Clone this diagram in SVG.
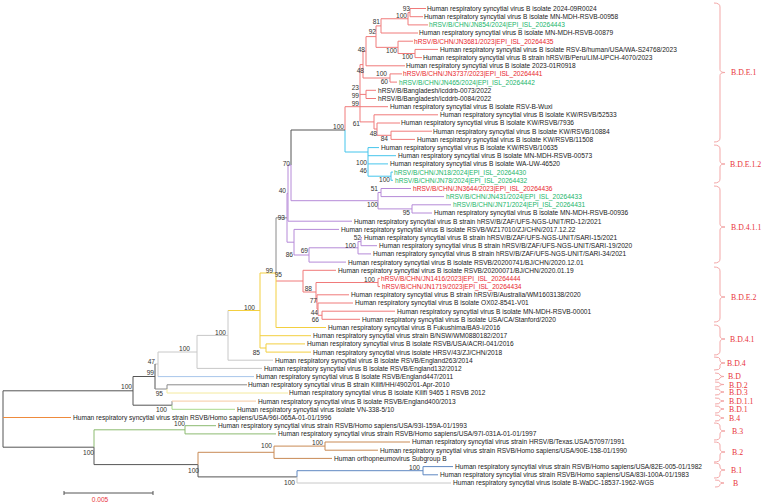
<svg xmlns="http://www.w3.org/2000/svg" width="767" height="504" viewBox="0 0 767 504">
<style>
text{font-family:"Liberation Sans",Arial,sans-serif;font-size:6.6px}
.lf{fill:#1a1a1a}.lr{fill:#e8262c}.lg{fill:#19b56a}
.bs{fill:#333;text-anchor:end}
.cl{font-family:"Liberation Serif","Times New Roman",serif;font-size:7.8px;fill:#e8333a}
path{fill:none;stroke-width:1}
.r{stroke:#f07a7a}.c{stroke:#45c5ec}.p{stroke:#b68ad8}.y{stroke:#f3cf40}.dg{stroke:#555}.g{stroke:#8a8a8a}.lgy{stroke:#c8c8c8}.lb{stroke:#a8c6ea}.ly{stroke:#f4ea9e}.lo{stroke:#f6c9a2}.lgn{stroke:#a9d98c}.o{stroke:#ee8a3c}.gn{stroke:#8cbb70}.br{stroke:#c98a55}.bl{stroke:#5f88c2}.br2{stroke:#f3a7a7}
</style>
<rect width="767" height="504" fill="#fff"/>
<g id="connectors">
<path class="r" d="M410 8.5H426M410 16.7H423M410 8.5V16.7M408 12.6H410M408 24.9H428M408 12.6V24.9M381 18.75H408M381 33H418M381 18.75V33M415 49.4H438M415 57.6H422M415 49.4V57.6M398 41.2H413M398 53.5H415M398 41.2V53.5M376 25.9H381M376 47.35H398M376 25.9V47.35M366 36.6H376M366 65.8H405M366 36.6V65.8M390 73.9H402M390 82.1H397M390 73.9V82.1M363 51.2H366M363 78H390M363 51.2V78M366 90.3H376M366 98.5H376M366 90.3V98.5M391 131.2H432M391 139.4H415M391 131.2V139.4M377 123H400M377 135.3H391M377 123V135.3M374 114.8H438M374 129H377M374 114.8V129M360 64.6H363M360 94.4H366M360 106.7H388M360 121.9H374M360 64.6V121.9M345 106.7H360M345 106.7V130"/>
<path class="c" d="M345 130V152M345 152H368M368 147.6V176.2M368 147.6H379M368 155.7H396M368 163.9H388M368 176.2H391M391 172.1V180.3M391 172.1H393M391 180.3H393"/>
<path class="dg" d="M291 130H345M291 130V165"/>
<path class="p" d="M291 165V200.7M291 200.7H378M378 192.5V208.9M378 192.5H381M381 188.5V196.6M381 188.5H411M381 196.6H444M378 208.9H412M412 204.8V213M412 204.8H451M412 213H432M288 165H291M288 165V221.2M288 221.2H352M287 193.3V242.2M287 193.3H288M287 242.2H294M294 229.4V255M294 229.4H339M294 255H309M309 247.8V262.1M309 262.1H346M309 247.8H358M358 241.6V253.9M358 253.9H371M358 241.6H361M361 237.5V245.7M361 237.5H362M361 245.7H377"/>
<path class="g" d="M276 217.8H287M276 217.8V273"/>
<path class="r" d="M276 281H303M303 270.3V292M303 270.3H336M303 292H316M316 282.5V302M316 282.5H378M378 278.4V286.6M378 278.4H380M378 286.6H380M316 302H317M317 294.8V309.1M317 294.8H349M317 309.1H318M318 303V315.3M318 303H353M318 315.3H322M322 311.2V319.3M322 311.2H395M322 319.3H360"/>
<path class="y" d="M260 273H276M276 273V327.5M276 327.5H326M260 273V348M260 335.7H311M260 348H266M266 343.9V352.1M266 343.9H305M266 352.1H311M228 310.5H260"/>
<path class="lgy" d="M228 310.5V360.2M228 360.2H273M197 335.4H228M197 335.4V368.4M197 368.4H262M158 352H197M158 352V376.6M155 364H158"/>
<path class="lb" d="M158 376.6H254"/>
<path class="dg" d="M155 364V389M133 376.5H155M133 376.5V405.2M133 405.2H172M3 390.8H133M3 390.8V447.2M3 447.2H94M94 447.2V464.6M94 464.6H198M198 464.6V476.9M198 476.9H297"/>
<path class="g" d="M155 389H167M167 384.8V389M167 384.8H247M172 401.1V405.2"/>
<path class="ly" d="M167 389V393M167 393H288"/>
<path class="lo" d="M172 401.1H256"/>
<path class="lgn" d="M172 405.2V409.3M172 409.3H235"/>
<path class="o" d="M3 417.5H71"/>
<path class="gn" d="M94 429.8V447.2M94 429.8H185M185 425.7V433.9M185 425.7H216M185 433.9H276"/>
<path class="br" d="M198 452.3V464.6M198 452.3H274M274 446.1V458.4M274 446.1H325M274 458.4H332M325 442V450.2M325 442H410M325 450.2H378"/>
<path class="bl" d="M297 470.7H423M297 470.7V476.9M423 466.6V474.8M423 466.6H453M423 474.8H438"/>
<path class="lgy" d="M297 476.9V483M297 483H451"/>
</g>
<g id="leaves">
<g id="leaf-01"><text class="lf" x="427" y="10.9">Human respiratory syncytial virus B isolate 2024-09R0024</text></g>
<g id="leaf-02"><text class="lf" x="424" y="19.1">Human respiratory syncytial virus B isolate MN-MDH-RSVB-00958</text></g>
<g id="leaf-03"><text class="lg" x="429" y="27.3">hRSV/B/CHN/JN854/2024|EPI_ISL_20264443</text></g>
<g id="leaf-04"><text class="lf" x="419" y="35.4">Human respiratory syncytial virus B isolate MN-MDH-RSVB-00879</text></g>
<g id="leaf-05"><text class="lr" x="414" y="43.6">hRSV/B/CHN/JN3681/2023|EPI_ISL_20264435</text></g>
<g id="leaf-06"><text class="lf" x="440" y="51.8">Human respiratory syncytial virus B isolate RSV-B/human/USA/WA-S24768/2023</text></g>
<g id="leaf-07"><text class="lf" x="423" y="60">Human respiratory syncytial virus B strain hRSV/B/Peru/LIM-UPCH-4070/2023</text></g>
<g id="leaf-08"><text class="lf" x="406" y="68.2">Human respiratory syncytial virus B isolate 2023-01R0918</text></g>
<g id="leaf-09"><text class="lr" x="403" y="76.3">hRSV/B/CHN/JN3737/2023|EPI_ISL_20264441</text></g>
<g id="leaf-10"><text class="lg" x="399" y="84.5">hRSV/B/CHN/JN465/2024|EPI_ISL_20264442</text></g>
<g id="leaf-11"><text class="lf" x="378" y="92.7">hRSV/B/Bangladesh/icddrb-0073/2022</text></g>
<g id="leaf-12"><text class="lf" x="378" y="100.9">hRSV/B/Bangladesh/icddrb-0084/2022</text></g>
<g id="leaf-13"><text class="lf" x="390" y="109.1">Human respiratory syncytial virus B isolate RSV-B-Wuxi</text></g>
<g id="leaf-14"><text class="lf" x="440" y="117.2">Human respiratory syncytial virus B isolate KW/RSVB/52533</text></g>
<g id="leaf-15"><text class="lf" x="401" y="125.4">Human respiratory syncytial virus B isolate KW/RSVB/7936</text></g>
<g id="leaf-16"><text class="lf" x="433" y="133.6">Human respiratory syncytial virus B isolate KW/RSVB/10884</text></g>
<g id="leaf-17"><text class="lf" x="417" y="141.8">Human respiratory syncytial virus B isolate KW/RSVB/11508</text></g>
<g id="leaf-18"><text class="lf" x="381" y="150">Human respiratory syncytial virus B isolate KW/RSVB/10635</text></g>
<g id="leaf-19"><text class="lf" x="398" y="158.1">Human respiratory syncytial virus B isolate MN-MDH-RSVB-00573</text></g>
<g id="leaf-20"><text class="lf" x="390" y="166.3">Human respiratory syncytial virus B isolate WA-UW-46520</text></g>
<g id="leaf-21"><text class="lg" x="394" y="174.5">hRSV/B/CHN/JN18/2024|EPI_ISL_20264430</text></g>
<g id="leaf-22"><text class="lg" x="395" y="182.7">hRSV/B/CHN/JN78/2024|EPI_ISL_20264432</text></g>
<g id="leaf-23"><text class="lr" x="413" y="190.9">hRSV/B/CHN/JN3644/2023|EPI_ISL_20264436</text></g>
<g id="leaf-24"><text class="lg" x="446" y="199">hRSV/B/CHN/JN431/2024|EPI_ISL_20264433</text></g>
<g id="leaf-25"><text class="lg" x="453" y="207.2">hRSV/B/CHN/JN71/2024|EPI_ISL_20264431</text></g>
<g id="leaf-26"><text class="lf" x="434" y="215.4">Human respiratory syncytial virus B isolate MN-MDH-RSVB-00936</text></g>
<g id="leaf-27"><text class="lf" x="354" y="223.6">Human respiratory syncytial virus B strain hRSV/B/ZAF/UFS-NGS-UNIT/RD-12/2021</text></g>
<g id="leaf-28"><text class="lf" x="341" y="231.8">Human respiratory syncytial virus B isolate RSVB/WZ17010/ZJ/CHN/2017.12.22</text></g>
<g id="leaf-29"><text class="lf" x="364" y="239.9">Human respiratory syncytial virus B strain hRSV/B/ZAF/UFS-NGS-UNIT/SARI-15/2021</text></g>
<g id="leaf-30"><text class="lf" x="379" y="248.1">Human respiratory syncytial virus B strain hRSV/B/ZAF/UFS-NGS-UNIT/SARI-19/2020</text></g>
<g id="leaf-31"><text class="lf" x="373" y="256.3">Human respiratory syncytial virus B strain hRSV/B/ZAF/UFS-NGS-UNIT/SARI-34/2021</text></g>
<g id="leaf-32"><text class="lf" x="348" y="264.5">Human respiratory syncytial virus B isolate RSVB/20200741/BJ/CHN/2020.12.01</text></g>
<g id="leaf-33"><text class="lf" x="338" y="272.7">Human respiratory syncytial virus B isolate RSVB/20200071/BJ/CHN/2020.01.19</text></g>
<g id="leaf-34"><text class="lr" x="381" y="280.8">hRSV/B/CHN/JN1416/2023|EPI_ISL_20264444</text></g>
<g id="leaf-35"><text class="lr" x="382" y="289">hRSV/B/CHN/JN1719/2023|EPI_ISL_20264434</text></g>
<g id="leaf-36"><text class="lf" x="351" y="297.2">Human respiratory syncytial virus B strain hRSV/B/Australia/WM1603138/2020</text></g>
<g id="leaf-37"><text class="lf" x="355" y="305.4">Human respiratory syncytial virus B isolate OX02-8541-V01</text></g>
<g id="leaf-38"><text class="lf" x="397" y="313.6">Human respiratory syncytial virus B isolate MN-MDH-RSVB-00001</text></g>
<g id="leaf-39"><text class="lf" x="362" y="321.7">Human respiratory syncytial virus B isolate USA/CA/Stanford/2020</text></g>
<g id="leaf-40"><text class="lf" x="328" y="329.9">Human respiratory syncytial virus B Fukushima/BA9-I/2016</text></g>
<g id="leaf-41"><text class="lf" x="313" y="338.1">Human respiratory syncytial virus strain B/NSW/WM0880182/2017</text></g>
<g id="leaf-42"><text class="lf" x="307" y="346.3">Human respiratory syncytial virus B isolate RSVB/USA/ACRI-041/2016</text></g>
<g id="leaf-43"><text class="lf" x="313" y="354.5">Human respiratory syncytial virus isolate HRSV/43/ZJ/CHN/2018</text></g>
<g id="leaf-44"><text class="lf" x="275" y="362.6">Human respiratory syncytial virus B isolate RSVB/England263/2014</text></g>
<g id="leaf-45"><text class="lf" x="264" y="370.8">Human respiratory syncytial virus B isolate RSVB/England132/2012</text></g>
<g id="leaf-46"><text class="lf" x="256" y="379">Human respiratory syncytial virus B isolate RSVB/England447/2011</text></g>
<g id="leaf-47"><text class="lf" x="248" y="387.2">Human respiratory syncytial virus B strain Kilifi/HH/4902/01-Apr-2010</text></g>
<g id="leaf-48"><text class="lf" x="289" y="395.4">Human respiratory syncytial virus B isolate Kilifi 9465 1 RSVB 2012</text></g>
<g id="leaf-49"><text class="lf" x="258" y="403.5">Human respiratory syncytial virus B isolate RSVB/England400/2013</text></g>
<g id="leaf-50"><text class="lf" x="237" y="411.7">Human respiratory syncytial virus isolate VN-338-5/10</text></g>
<g id="leaf-51"><text class="lf" x="73" y="419.9">Human respiratory syncytial virus strain RSVB/Homo sapiens/USA/96I-065A-01-01/1996</text></g>
<g id="leaf-52"><text class="lf" x="218" y="428.1">Human respiratory syncytial virus strain RSVB/Homo sapiens/USA/93I-159A-01/1993</text></g>
<g id="leaf-53"><text class="lf" x="278" y="436.3">Human respiratory syncytial virus strain RSVB/Homo sapiens/USA/97I-031A-01-01/1997</text></g>
<g id="leaf-54"><text class="lf" x="412" y="444.4">Human respiratory syncytial virus strain HRSV/B/Texas.USA/57097/1991</text></g>
<g id="leaf-55"><text class="lf" x="380" y="452.6">Human respiratory syncytial virus strain RSVB/Homo sapiens/USA/90E-158-01/1990</text></g>
<g id="leaf-56"><text class="lf" x="334" y="460.8">Human orthopneumovirus Subgroup B</text></g>
<g id="leaf-57"><text class="lf" x="455" y="469">Human respiratory syncytial virus strain RSVB/Homo sapiens/USA/82E-005-01/1982</text></g>
<g id="leaf-58"><text class="lf" x="440" y="477.2">Human respiratory syncytial virus strain RSVB/Homo sapiens/USA/83I-100A-01/1983</text></g>
<g id="leaf-59"><text class="lf" x="453" y="485.4">Human respiratory syncytial virus isolate B-WaDC-18537-1962-WGS</text></g>
</g>
<g id="bootstrap">
<text class="bs" x="410" y="11">93</text><text class="bs" x="407" y="17.5">100</text><text class="bs" x="380" y="24">81</text><text class="bs" x="376" y="34">92</text>
<text class="bs" x="365" y="52">48</text><text class="bs" x="397" y="53">100</text><text class="bs" x="413" y="59">100</text><text class="bs" x="364" y="73">48</text>
<text class="bs" x="387" y="76">100</text><text class="bs" x="388" y="84">60</text><text class="bs" x="359" y="90">23</text><text class="bs" x="359" y="98">99</text>
<text class="bs" x="359" y="106">99</text><text class="bs" x="344" y="129">100</text><text class="bs" x="360" y="126">61</text><text class="bs" x="377" y="136">48</text>
<text class="bs" x="388" y="141">84</text><text class="bs" x="367" y="165">100</text><text class="bs" x="367" y="173">46</text><text class="bs" x="390" y="182">100</text>
<text class="bs" x="290" y="166">70</text><text class="bs" x="378" y="191">51</text><text class="bs" x="378" y="207">100</text><text class="bs" x="410" y="215">95</text>
<text class="bs" x="286" y="193">40</text><text class="bs" x="285" y="220">93</text><text class="bs" x="361" y="240">52</text><text class="bs" x="356" y="248">100</text>
<text class="bs" x="308" y="253">69</text><text class="bs" x="293" y="257">86</text><text class="bs" x="273" y="273">99</text><text class="bs" x="282" y="277">95</text>
<text class="bs" x="375" y="282">100</text><text class="bs" x="312" y="291">88</text><text class="bs" x="317" y="303">77</text><text class="bs" x="318" y="315">44</text>
<text class="bs" x="319" y="322">66</text><text class="bs" x="255" y="310">100</text><text class="bs" x="260" y="355">85</text><text class="bs" x="226" y="335">100</text>
<text class="bs" x="190" y="351">100</text><text class="bs" x="155" y="364">47</text><text class="bs" x="154" y="375">99</text><text class="bs" x="132" y="389">100</text>
<text class="bs" x="163" y="396">95</text><text class="bs" x="167" y="412">100</text><text class="bs" x="185" y="426">100</text><text class="bs" x="94" y="455">100</text>
<text class="bs" x="272" y="448">100</text><text class="bs" x="323" y="445">100</text><text class="bs" x="199" y="473">100</text><text class="bs" x="420" y="470">100</text>
<text class="bs" x="295" y="485">100</text>
</g>
<g id="clades">
<path class="br2" d="M714 3Q720 3 720 7V69.5Q720 72.5 725 72.5Q720 72.5 720 75.5V138Q720 142 714 142"/>
<path class="br2" d="M714 145Q720 145 720 149V161Q720 164 725 164Q720 164 720 167V179Q720 183 714 183"/>
<path class="br2" d="M714 186Q720 186 720 190V224Q720 227 725 227Q720 227 720 230V259Q720 263 714 263"/>
<path class="br2" d="M714 267Q720 267 720 271V294Q720 297 725 297Q720 297 720 300V318Q720 322 714 322"/>
<path class="br2" d="M714 325Q720 325 720 329V336Q720 339 725 339Q720 339 720 342V351Q720 355 714 355"/>
<path class="br2" d="M714 357Q720 357 720 359V361Q720 363 725 363Q720 363 720 365V368Q720 370 714 370"/>
<path class="br2" d="M715 373Q720 373 720 375Q720 376.5 724 376.5Q720 376.5 720 378Q720 380 715 380"/>
<path class="br2" d="M715 382Q720 382 720 383.5Q720 384.5 724 384.5Q720 384.5 720 385.5Q720 387 715 387"/>
<path class="br2" d="M715 389Q720 389 720 390.5Q720 392 724 392Q720 392 720 393.5Q720 395 715 395"/>
<path class="br2" d="M715 398Q720 398 720 399.5Q720 401 724 401Q720 401 720 402.5Q720 404 715 404"/>
<path class="br2" d="M715 406Q720 406 720 407.5Q720 409 724 409Q720 409 720 410.5Q720 413 715 413"/>
<path class="br2" d="M715 415Q720 415 720 416.5Q720 418 724 418Q720 418 720 419.5Q720 421 715 421"/>
<path class="br2" d="M714 423Q720 423 720 426V428Q720 431 725 431Q720 431 720 434V437Q720 440 714 440"/>
<path class="br2" d="M714 442Q720 442 720 445V449Q720 452 725 452Q720 452 720 455V459Q720 462 714 462"/>
<path class="br2" d="M714 463Q720 463 720 466V467Q720 470 725 470Q720 470 720 473V475Q720 478 714 478"/>
<path class="br2" d="M715 480Q720 480 720 481.5Q720 483 724 483Q720 483 720 484.5Q720 487 715 487"/>
<text class="cl" x="731" y="75.3">B.D.E.1</text>
<text class="cl" x="730" y="166.8">B.D.E.1.2</text>
<text class="cl" x="731" y="229.8">B.D.4.1.1</text>
<text class="cl" x="731" y="299.8">B.D.E.2</text>
<text class="cl" x="730" y="341.8">B.D.4.1</text>
<text class="cl" x="727" y="365.8">B.D.4</text>
<text class="cl" x="728" y="379">B.D</text>
<text class="cl" x="729" y="387.5">B.D.2</text>
<text class="cl" x="729" y="395">B.D.3</text>
<text class="cl" x="729" y="404">B.D.1.1</text>
<text class="cl" x="729" y="411.8">B.D.1</text>
<text class="cl" x="729" y="420.8">B.4</text>
<text class="cl" x="732" y="433.8">B.3</text>
<text class="cl" x="732" y="454.8">B.2</text>
<text class="cl" x="731" y="472.8">B.1</text>
<text class="cl" x="733" y="485.8">B</text>
</g>
<g id="scale">
<path class="dg" d="M64 493H153M64 491V495M153 491V495"/>
<text x="100" y="502" style="fill:#e8333a;text-anchor:middle">0.005</text>
</g>
</svg>
